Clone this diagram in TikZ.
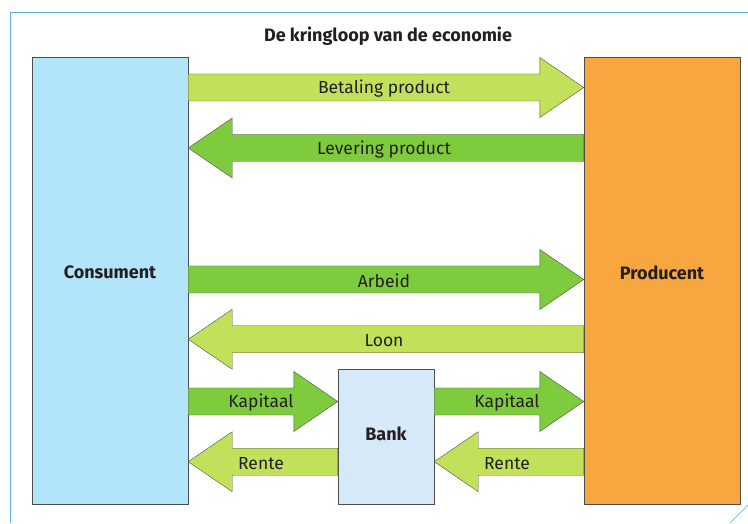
\documentclass[tikz,border=0pt]{standalone}
\usepackage{fontspec}
\setmainfont{Fira Sans}
\usepackage{tikz}
\usetikzlibrary{calc}

\definecolor{lightgreen}{HTML}{C2E15A}
\definecolor{darkgreen}{HTML}{7ECB3E}
\definecolor{consblue}{HTML}{B3E5FA}
\definecolor{prodorange}{HTML}{F8A740}
\definecolor{bankblue}{HTML}{D6E9F8}
\definecolor{framblue}{HTML}{5BB0E4}
\definecolor{inkgray}{HTML}{4D4D4D}
\definecolor{ink}{HTML}{231F20}

% block arrow: style, from, to, height, label
\newcommand{\flow}[5]{%
  \draw[#1] let \p1=(#2), \p2=(#3), \n1={sign(\x2-\x1)} in
    (\x1,#4+13.5) -- (\x2-\n1*44,#4+13.5) -- (\x2-\n1*44,#4+30) -- (\x2,#4)
    -- (\x2-\n1*44,#4-30) -- (\x2-\n1*44,#4-13.5) -- (\x1,#4-13.5) -- cycle
    ($(\x1,#4)!0.5!(\x2,#4)$) node[flowlabel] {#5};}

\begin{document}
\begin{tikzpicture}[x=1pt,y=1pt,semithick,text=ink]
  \tikzstyle{party}=[draw=inkgray,thin,inner sep=0pt]
  \tikzstyle{partyname}=[font=\bfseries\fontsize{18}{21}\selectfont]
  \tikzstyle{pale}=[fill=lightgreen,draw=inkgray,thin]
  \tikzstyle{deep}=[fill=darkgreen,draw=inkgray,thin]
  \tikzstyle{flowlabel}=[font=\fontsize{17.5}{20}\selectfont,xshift=-2pt,yshift=-1.5pt]

  \useasboundingbox (0,0) rectangle (748,523);
  \draw[framblue,line width=1pt] (748,510.5) -- (10.5,510.5) -- (10.5,0);
  \draw[framblue,thin] (730,0) -- (748,18);

  \node[font=\bfseries\fontsize{18}{21}\selectfont] (title) at (388,487) {De kringloop van de economie};

  \node[party,fill=consblue,minimum width=156,minimum height=447,
        label={[partyname,yshift=8]center:Consument}] (cons) at (110,242.5) {};
  \node[party,fill=prodorange,minimum width=156,minimum height=447,
        label={[partyname,yshift=8]center:Producent}] (prod) at (662,242.5) {};
  \node[party,fill=bankblue,minimum width=96,minimum height=135,
        label={[partyname,yshift=2.5]center:Bank}]    (bank) at (386,86.5)  {};

  \flow{pale}{cons.east}{prod.west}{435.5}{Betaling product}
  \flow{deep}{prod.west}{cons.east}{375}{Levering product}
  \flow{deep}{cons.east}{prod.west}{243.5}{Arbeid}
  \flow{pale}{prod.west}{cons.east}{183.7}{Loon}
  \flow{deep}{cons.east}{bank.west}{121.5}{Kapitaal}
  \flow{deep}{bank.east}{prod.west}{121.5}{Kapitaal}
  \flow{pale}{bank.west}{cons.east}{61.3}{Rente}
  \flow{pale}{prod.west}{bank.east}{61.3}{Rente}
\end{tikzpicture}
\end{document}
